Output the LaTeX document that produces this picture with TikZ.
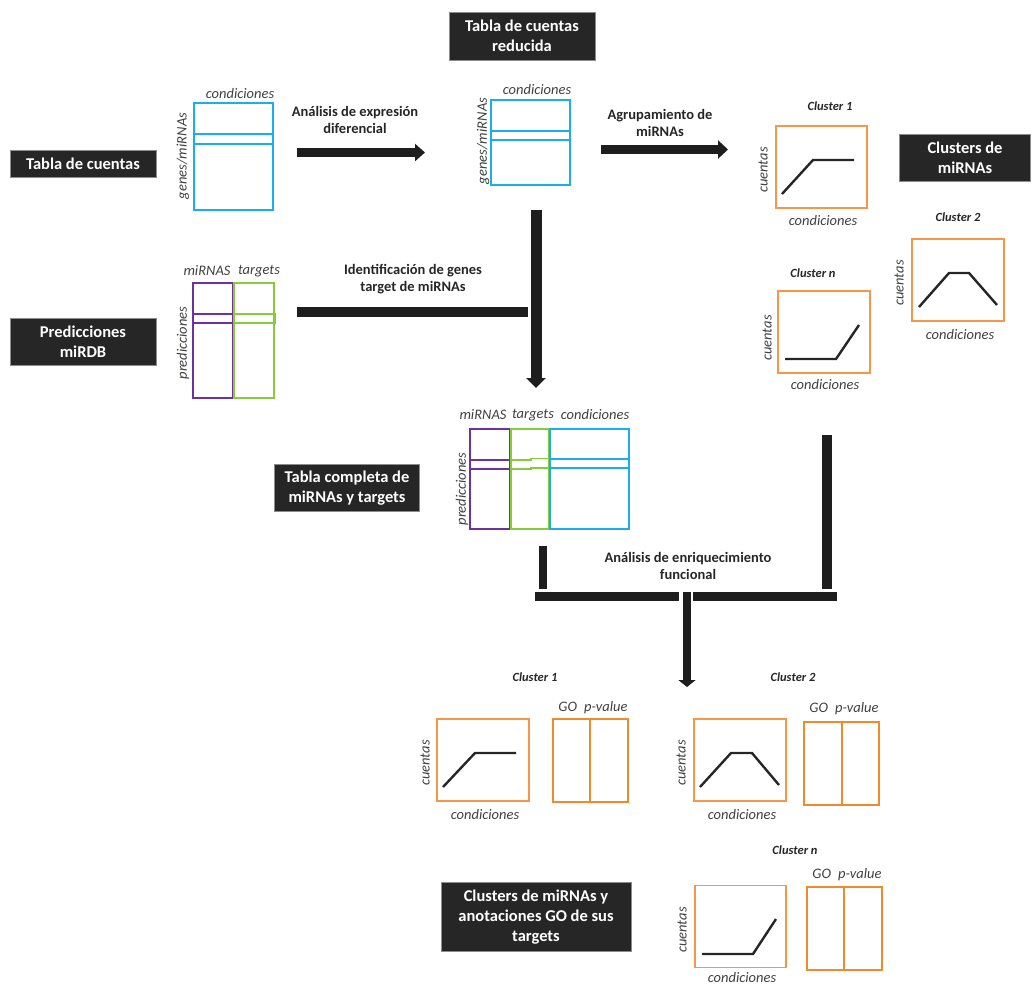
\documentclass[tikz,border=0pt]{standalone}
\usepackage{fontspec}
\setmainfont{Carlito}
\usetikzlibrary{arrows.meta}
\definecolor{dark}{HTML}{262626}
\definecolor{tblue}{HTML}{1AAEEF}
\definecolor{tpurple}{HTML}{7030A0}
\definecolor{tgreen}{HTML}{84CC3A}
\definecolor{torange}{HTML}{F79646}
\definecolor{gorange}{HTML}{F08A2A}
\definecolor{barblack}{HTML}{1E1E1E}
\begin{document}
\begin{tikzpicture}[x=1pt,y=-1pt,
  darkbox/.style={fill=dark,draw=black!45,line width=0.8pt,text=white,
    font=\fontsize{16.5}{20}\selectfont\bfseries,align=center,inner sep=0pt},
  arrowlabel/.style={font=\fontsize{14.5}{17}\selectfont\bfseries,align=center,text=black!85,inner sep=0pt},
  axislabel/.style={font=\fontsize{14.5}{17}\selectfont\itshape,text=black!75,inner sep=0pt},
  clustertitle/.style={font=\fontsize{12.5}{14}\selectfont\bfseries\itshape,text=black!85,inner sep=0pt},
  tablebox/.style={draw=#1,line width=1.8pt,inner sep=0pt},
  tline/.style={draw=#1,line width=1.8pt},
  plotbox/.style={draw=torange,line width=1.8pt,inner sep=0pt,minimum width=91pt,minimum height=82pt},
  gobox/.style={draw=gorange,line width=2pt,inner sep=0pt,minimum width=75pt,minimum height=83pt},
  curve/.style={draw=black!85,line width=2.4pt},
  bigarrow/.style={draw=barblack,line width=9pt,-{Triangle[length=10pt,width=18pt]}},
  bar/.style={draw=barblack,line width=9pt},
]
\useasboundingbox (0,0) rectangle (1033,986);

% ---------- dark labels ----------
\node[darkbox,minimum width=146pt,minimum height=27pt] (lab1) at (83,164) {Tabla de cuentas};
\node[darkbox,minimum width=146pt,minimum height=48pt] (lab2) at (522,36) {Tabla de cuentas\\reducida};
\node[darkbox,minimum width=131pt,minimum height=47pt] (lab3) at (965,158) {Clusters de\\miRNAs};
\node[darkbox,minimum width=146pt,minimum height=47pt] (lab4) at (83,342) {Predicciones\\miRDB};
\node[darkbox,minimum width=145pt,minimum height=47pt] (lab5) at (347,488) {Tabla completa de\\miRNAs y targets};
\node[darkbox,minimum width=190pt,minimum height=69pt] (lab6) at (536,917) {Clusters de miRNAs y\\anotaciones GO de sus\\targets};

% ---------- table 1 ----------
\node[tablebox=tblue,minimum width=79pt,minimum height=107pt] (t1) at (233.5,156.5) {};
\draw[tline=tblue] (t1.west |- 0,134) -- (t1.east |- 0,134);
\draw[tline=tblue] (t1.west |- 0,144) -- (t1.east |- 0,144);
\node[axislabel] (t1c) at (240,94) {condiciones};
\node[axislabel,rotate=90] (t1g) at (183,156) {genes/miRNAs};

% ---------- table 2 ----------
\node[tablebox=tblue,minimum width=79pt,minimum height=85pt] (t2) at (530.5,142.5) {};
\draw[tline=tblue] (t2.west |- 0,131) -- (t2.east |- 0,131);
\draw[tline=tblue] (t2.west |- 0,140) -- (t2.east |- 0,140);
\node[axislabel] (t2c) at (537,90) {condiciones};
\node[axislabel,rotate=90] (t2g) at (483,141) {genes/miRNAs};

% ---------- prediction table ----------
\node[tablebox=tpurple,minimum width=40pt,minimum height=115pt] (p1) at (213,340.5) {};
\node[tablebox=tgreen,minimum width=40pt,minimum height=115pt] (g1) at (254,340.5) {};
\draw[tline=tpurple] (p1.west |- 0,314) -- (p1.east |- 0,314);
\draw[tline=tpurple] (p1.west |- 0,323) -- (p1.east |- 0,323);
\draw[tline=tgreen] (g1.west |- 0,314) -- (275,314) -- (275,323) -- (g1.west |- 0,323);
\node[axislabel] (p1l) at (207,271) {miRNAS};
\node[axislabel] (g1l) at (259,271) {targets};
\node[axislabel,rotate=90] (p1r) at (183,343) {predicciones};

% ---------- combined table ----------
\node[tablebox=tpurple,minimum width=40pt,minimum height=100pt] (p2) at (490,479) {};
\node[tablebox=tgreen,minimum width=38pt,minimum height=100pt] (g2) at (530,479) {};
\node[tablebox=tblue,minimum width=79pt,minimum height=100pt] (b2) at (589.5,479) {};
\draw[tline=tpurple] (p2.west |- 0,460) -- (p2.east |- 0,460);
\draw[tline=tpurple] (p2.west |- 0,469) -- (p2.east |- 0,469);
\draw[tline=tgreen] (g2.west |- 0,460) -- (531,460) -- (531,458.5) -- (g2.east |- 0,458.5);
\draw[tline=tgreen] (g2.west |- 0,469) -- (531,469) -- (531,468) -- (g2.east |- 0,468);
\draw[tline=tblue] (b2.west |- 0,459) -- (b2.east |- 0,459);
\draw[tline=tblue] (b2.west |- 0,468) -- (b2.east |- 0,468);
\node[axislabel] (p2l) at (483,415) {miRNAS};
\node[axislabel] (g2l) at (533,415) {targets};
\node[axislabel] (b2l) at (595,415) {condiciones};
\node[axislabel,rotate=90] (p2r) at (462,489) {predicciones};

% ---------- arrow labels ----------
\node[arrowlabel] (al1) at (355,120) {Análisis de expresión\\diferencial};
\node[arrowlabel] (al2) at (660,123) {Agrupamiento de\\miRNAs};
\node[arrowlabel] (al3) at (413,279) {Identificación de genes\\target de miRNAs};
\node[arrowlabel] (al4) at (688,566) {Análisis de enriquecimiento\\funcional};

% ---------- connectors ----------
\coordinate (a1s) at (297,152.5); \coordinate (a1e) at (425,152.5);
\draw[bigarrow,line width=8.5pt,-{Triangle[length=10pt,width=17pt]}] (a1s) -- (a1e);
\coordinate (a2s) at (601,149.5); \coordinate (a2e) at (728,149.5);
\draw[bigarrow] (a2s) -- (a2e);
\coordinate (a3s) at (536,210); \coordinate (a3e) at (536,388);
\draw[bigarrow,line width=11pt,-{Triangle[length=10pt,width=19pt]}] (a3s) -- (a3e);
\coordinate (b1s) at (297,312); \coordinate (b1e) at (528,312);
\draw[bar,line width=10pt] (b1s) -- (b1e);
\coordinate (v1s) at (543,546); \coordinate (v1e) at (543,589);
\draw[bar,line width=8pt] (v1s) -- (v1e);
\coordinate (v2s) at (827,435); \coordinate (v2e) at (827,589);
\draw[bar,line width=10pt] (v2s) -- (v2e);
\coordinate (h1s) at (535,596.5); \coordinate (h1e) at (679,596.5);
\draw[bar] (h1s) -- (h1e);
\coordinate (h2s) at (693,596.5); \coordinate (h2e) at (837,596.5);
\draw[bar] (h2s) -- (h2e);
\coordinate (m1s) at (687,592); \coordinate (m1e) at (687,687);
\draw[bigarrow,line width=8pt,-{Triangle[length=7pt,width=17pt]}] (m1s) -- (m1e);

% ---------- top clusters ----------
\node[plotbox] (c1) at (821.5,167) {};
\draw[curve] (782,194) -- (813,160) -- (854,160);
\node[clustertitle] (c1t) at (830,106) {Cluster 1};
\node[axislabel,rotate=90] (c1y) at (763,170) {cuentas};
\node[axislabel] (c1x) at (823,221) {condiciones};

\node[plotbox,minimum width=92pt] (c2) at (958,280) {};
\draw[curve] (919,307) -- (949,273) -- (969,273) -- (997,305);
\node[clustertitle] (c2t) at (958,217) {Cluster 2};
\node[axislabel,rotate=90] (c2y) at (899,283) {cuentas};
\node[axislabel] (c2x) at (960,335) {condiciones};

\node[plotbox,minimum width=92pt] (cn) at (824,332) {};
\draw[curve] (785,359) -- (836,359) -- (859,325);
\node[clustertitle] (cnt) at (813,273) {Cluster n};
\node[axislabel,rotate=90] (cny) at (767,338) {cuentas};
\node[axislabel] (cnx) at (825,385) {condiciones};

% ---------- bottom clusters ----------
\node[plotbox,minimum width=92pt] (d1) at (483,760) {};
\draw[curve] (443,787) -- (475,753) -- (516,753);
\node[clustertitle] (d1t) at (535,677) {Cluster 1};
\node[axislabel,rotate=90] (d1y) at (425,763) {cuentas};
\node[axislabel] (d1x) at (485,815) {condiciones};
\node[gobox] (go1) at (590.5,760.5) {};
\draw[draw=gorange,line width=2pt] (590,719) -- (590,802);
\node[axislabel] (go1l) at (593,708) {GO\hspace{7pt}p-value};

\node[plotbox,minimum width=92pt] (d2) at (740,760) {};
\draw[curve] (700,787) -- (731,753) -- (752,753) -- (779,785);
\node[clustertitle] (d2t) at (793,677) {Cluster 2};
\node[axislabel,rotate=90] (d2y) at (681,763) {cuentas};
\node[axislabel] (d2x) at (742,815) {condiciones};
\node[gobox] (go2) at (841.5,763) {};
\draw[draw=gorange,line width=2pt] (842,722) -- (842,804);
\node[axislabel] (go2l) at (844,709) {GO\hspace{7pt}p-value};

\node[plotbox] (dn) at (740.5,926.5) {};
\draw[curve] (702,954) -- (753,954) -- (776,919);
\node[clustertitle] (dnt) at (795,850) {Cluster n};
\node[axislabel,rotate=90] (dny) at (682,930) {cuentas};
\node[axislabel] (dnx) at (742,978) {condiciones};
\node[gobox] (gon) at (844.5,928.5) {};
\draw[draw=gorange,line width=2pt] (844,887) -- (844,970);
\node[axislabel] (gonl) at (847,875) {GO\hspace{7pt}p-value};
\end{tikzpicture}
\end{document}
